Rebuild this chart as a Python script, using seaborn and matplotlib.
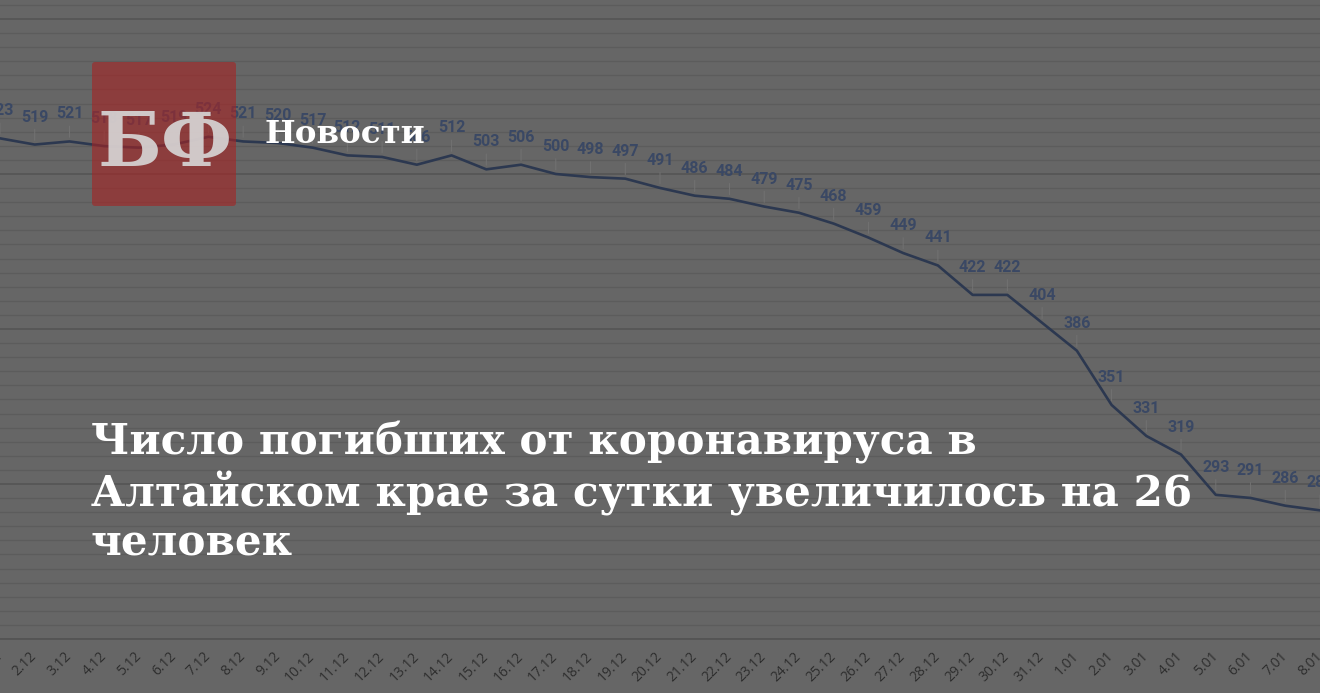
import numpy as np
import pandas as pd
import matplotlib
matplotlib.use("Agg")
import matplotlib.pyplot as plt
from matplotlib.ticker import MultipleLocator
from matplotlib.patches import FancyBboxPatch
import seaborn as sns

# ---- data ----
dates = ["1.12", "2.12", "3.12", "4.12", "5.12", "6.12", "7.12", "8.12", "9.12", "10.12",
         "11.12", "12.12", "13.12", "14.12", "15.12", "16.12", "17.12", "18.12", "19.12", "20.12",
         "21.12", "22.12", "23.12", "24.12", "25.12", "26.12", "27.12", "28.12", "29.12", "30.12",
         "31.12", "1.01", "2.01", "3.01", "4.01", "5.01", "6.01", "7.01", "8.01"]
values = [523, 519, 521, 518, 517, 519, 524, 521, 520, 517,
          512, 511, 506, 512, 503, 506, 500, 498, 497, 491,
          486, 484, 479, 475, 468, 459, 449, 441, 422, 422,
          404, 386, 351, 331, 319, 293, 291, 286, 283]

brand = "БФ"
section = "Новости"
headline = ["Число погибших от коронавируса в",
            "Алтайском крае за сутки увеличилось на 26",
            "человек"]

df = pd.DataFrame({"pos": np.arange(len(dates)), "date": dates, "value": values})

# ---- style ----
sns.set_theme(style="white")
plt.rcParams["font.family"] = ["DejaVu Sans"]

BG = "#666666"
W, H = 1320, 693
fig = plt.figure(figsize=(W / 100, H / 100), dpi=100, facecolor=BG)

ax = fig.add_axes([0, (H - 639) / H, 1, 639 / H])
ax.set_facecolor(BG)

sns.lineplot(data=df, x="pos", y="value", ax=ax, color="#2c3850", linewidth=1.9,
             zorder=3, legend=False)

ax.set_xlim(0.148, 37.65)
ax.set_ylim(200, 200 + 639 / 1.55)

ax.yaxis.set_major_locator(MultipleLocator(100))
ax.yaxis.set_minor_locator(MultipleLocator(100 / 11))
ax.grid(which="minor", axis="y", color="#5c5c5c", linewidth=1.0, zorder=0)
ax.grid(which="major", axis="y", color="#565656", linewidth=1.3, zorder=0)
ax.grid(which="both", axis="x", visible=False)

for s in ["top", "left", "right"]:
    ax.spines[s].set_visible(False)
ax.spines["bottom"].set_color("#545454")
ax.spines["bottom"].set_linewidth(1.3)

ax.set_xticks(df["pos"])
ax.set_xticklabels(df["date"], rotation=45, ha="right", va="center",
                   rotation_mode="anchor", fontsize=10, color="#2e2e2e",
                   family=["Open Sans", "DejaVu Sans"])
ax.tick_params(axis="x", length=0, pad=11)
ax.tick_params(axis="y", left=False, labelleft=False)
ax.set_xlabel("")
ax.set_ylabel("")

for p, v in zip(df["pos"], df["value"]):
    ax.annotate(str(v), xy=(p, v), xytext=(0, 19.8), textcoords="offset points",
                ha="center", va="center", fontsize=11.5, fontweight="bold",
                color="#3a4864", family=["Roboto", "DejaVu Sans"], zorder=4,
                arrowprops=dict(arrowstyle="-", color="#727272", lw=0.7,
                                shrinkA=1, shrinkB=3))

# ---- overlay (pixel coordinates) ----
ov = fig.add_axes([0, 0, 1, 1], facecolor="none")
ov.set_xlim(0, W)
ov.set_ylim(H, 0)
ov.axis("off")

ov.add_patch(FancyBboxPatch((92, 62), 144, 144,
                            boxstyle="round,pad=0,rounding_size=3",
                            facecolor="#a52424", edgecolor="none", alpha=0.62))
ov.text(165, 166, brand, ha="center", va="baseline", fontsize=54, fontweight="bold",
        color="#d8d8d8", alpha=0.9, family=["DejaVu Serif"])
ov.text(265, 143, section, ha="left", va="baseline", fontsize=23.4, fontweight="bold",
        color="white", family=["DejaVu Serif"])

for line, base in zip(headline, [455, 506, 556]):
    ov.text(91, base, line, ha="left", va="baseline", fontsize=30.3, fontweight="bold",
            color="white", family=["DejaVu Serif"])

fig.savefig("out.png", dpi=100, facecolor=BG)
